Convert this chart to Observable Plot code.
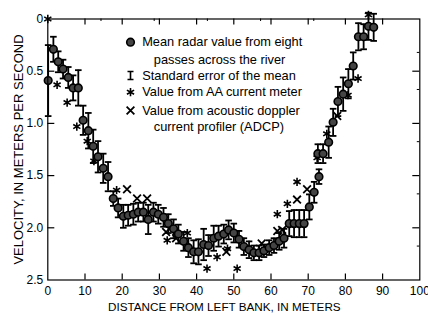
<!DOCTYPE html>
<html><head><meta charset="utf-8">
<script src="https://cdn.jsdelivr.net/npm/d3@7"></script>
<script src="https://cdn.jsdelivr.net/npm/@observablehq/plot@0.6"></script>
<style>
html,body{margin:0;padding:0;background:#fff;}
#chart{width:428px;height:315px;}
</style></head><body><div id="chart"></div>
<script>
// Mean radar value (distance m, velocity m/s, standard error)
const radarX = [0.1,1.5,2.8,4.1,5.5,6.8,8.2,9.5,10.9,12.2,13.5,14.9,16.2,17.6,18.9,20.3,21.6,23.0,24.3,25.7,27.0,28.4,29.7,31.1,32.4,33.8,35.1,36.5,37.8,39.2,40.5,41.9,43.2,44.6,45.9,47.3,48.6,50.0,51.4,52.7,54.1,55.4,56.8,58.1,59.5,60.8,62.2,63.5,64.9,66.2,67.6,68.9,70.3,71.6,72.9,72.6,74.0,75.5,76.7,78.0,79.4,80.8,82.1,83.5,84.9,86.2,87.6];
const radarV = [0.59,0.29,0.41,0.48,0.56,0.66,0.66,0.97,1.07,1.22,1.32,1.43,1.51,1.72,1.81,1.89,1.88,1.87,1.85,1.85,1.92,1.85,1.87,1.90,1.96,2.01,2.06,2.13,2.19,2.23,2.23,2.16,2.17,2.10,2.08,2.06,2.02,2.05,2.11,2.18,2.21,2.24,2.24,2.22,2.19,2.17,2.13,2.10,1.96,1.96,1.96,1.96,1.80,1.66,1.51,1.29,1.29,1.18,0.99,0.79,0.72,0.62,0.45,0.17,0.17,0.07,0.08];
const radarSE = [0.34,0.12,0.10,0.09,0.10,0.12,0.17,0.14,0.17,0.16,0.15,0.14,0.14,0.07,0.09,0.11,0.10,0.10,0.09,0.09,0.14,0.09,0.09,0.09,0.09,0.09,0.09,0.09,0.09,0.11,0.12,0.15,0.10,0.12,0.10,0.09,0.09,0.09,0.08,0.08,0.08,0.07,0.07,0.06,0.07,0.07,0.08,0.09,0.12,0.13,0.13,0.13,0.12,0.10,0.07,0.09,0.09,0.15,0.13,0.14,0.16,0.14,0.13,0.13,0.12,0.13,0.13];
// AA current meter
const aaX = [0,2.5,5.2,7.8,10.6,12.4,18.5,32.1,37.5,42.8,45.5,48.3,50.9,61.7,64.4,67.0,72.4,75.0,80.7,83.4,86.2];
const aaV = [0,0.63,0.80,1.03,1.17,1.36,1.64,2.12,2.05,2.39,2.28,2.20,2.39,1.87,1.77,1.56,1.33,1.10,0.73,0.57,-0.04];
// ADCP
const adcpX = [21.3,24.0,26.7,31.8,34.5,48.0,57.5,61.7,63.0,67.0,69.7,77.8];
const adcpV = [1.63,1.72,1.72,2.04,2.10,2.23,2.15,2.03,2.02,1.73,1.63,0.93];
// Ticks
const xTicks = [0,10,20,30,40,50,60,70,80,90,100];
const xInner = [10,20,30,40,50,60,70,80,90];
const yTicks = [0,0.5,1.0,1.5,2.0,2.5];
const yInner = [0.5,1.0,1.5,2.0];
const xMinorTop = [14.3,28.6,42.9,57.2,71.5];
const yMinorRight = [0.32,0.675,1.175,1.675,2.175];
const xTitle = "DISTANCE FROM LEFT BANK, IN METERS";
const yTitle = "VELOCITY, IN METERS PER SECOND";
const legendLines = ["Mean radar value from eight","passes across the river","Standard error of the mean","Value from AA current meter","Value from acoustic doppler","current profiler (ADCP)"];

const radar = radarX.map((x,i)=>({x, v: radarV[i], se: radarSE[i]}));
const aa = aaX.map((x,i)=>({x, v: aaV[i]}));
const adcp = adcpX.map((x,i)=>({x, v: adcpV[i]}));

const W = 428, H = 315, mL = 47.3, mR = 8.7, mT = 18.5, mB = 35.5;
const fw = W - mL - mR, fh = H - mT - mB;

const cap = {draw(ctx, size){ const r = Math.sqrt(size/Math.PI); ctx.moveTo(-r,0); ctx.lineTo(r,0);} };
const ibar = {draw(ctx, size){ const r = Math.sqrt(size/Math.PI); const w=r*0.75; ctx.moveTo(0,-r); ctx.lineTo(0,r); ctx.moveTo(-w,-r); ctx.lineTo(w,-r); ctx.moveTo(-w,r); ctx.lineTo(w,r);} };

const font = "Liberation Sans, Arial, Helvetica, sans-serif";
const lgX = 130 - mL, lgT = 141.7 - mL, lgT2 = 153.3 - mL;
const lgRows = [41.7, 59, 75, 91.7, 110, 126.5].map(y => y - mT);

const chart = Plot.plot({
  width: W, height: H,
  marginLeft: mL, marginRight: mR, marginTop: mT, marginBottom: mB,
  style: {fontFamily: font, fontSize: "12px", color: "black", background: "white"},
  x: {domain: [0,100]},
  y: {domain: [0,2.5], reverse: true},
  marks: [
    Plot.ruleX(radar, {x: "x", y1: d => d.v - d.se, y2: d => d.v + d.se, stroke: "black", strokeWidth: 1.8}),
    Plot.dot(radar, {x: "x", y: d => d.v - d.se, symbol: cap, r: 3.3, stroke: "black", strokeWidth: 1.8, fill: "none"}),
    Plot.dot(radar, {x: "x", y: d => d.v + d.se, symbol: cap, r: 3.3, stroke: "black", strokeWidth: 1.8, fill: "none"}),
    Plot.dot(aa, {x: "x", y: "v", symbol: "asterisk", r: 3.9, stroke: "black", strokeWidth: 1.6}),
    Plot.dot(adcp, {x: "x", y: "v", symbol: "times", r: 3.6, stroke: "black", strokeWidth: 1.8}),
    Plot.dot(radar, {x: "x", y: "v", r: 3.8, fill: "#444", stroke: "black", strokeWidth: 1.6}),
    Plot.frame({stroke: "black", strokeWidth: 1.2}),
    Plot.tickX(xInner, {x: d => d, insetTop: fh - 6, stroke: "black", strokeWidth: 1.2}),
    Plot.tickX(xInner, {x: d => d, insetBottom: fh - 6, stroke: "black", strokeWidth: 1.2}),
    Plot.tickX(xMinorTop, {x: d => d, insetBottom: fh - 2.5, stroke: "black", strokeWidth: 1}),
    Plot.tickY(yInner, {y: d => d, insetRight: fw - 7, stroke: "black", strokeWidth: 1.2}),
    Plot.tickY(yInner, {y: d => d, insetLeft: fw - 7, stroke: "black", strokeWidth: 1.2}),
    Plot.tickY(yMinorRight, {y: d => d, insetLeft: fw - 2.5, stroke: "black", strokeWidth: 1}),
    Plot.axisX({ticks: xTicks, tickSize: 0, tickPadding: 6, label: null, fontSize: 12}),
    Plot.axisY({ticks: yTicks, tickSize: 0, tickPadding: 4.5, label: null, fontSize: 12,
      tickFormat: d => d === 0 ? "0" : d.toFixed(1)}),
    Plot.text([xTitle], {frameAnchor: "bottom", dx: -9.5, dy: 27, textAnchor: "middle", lineAnchor: "middle", fontSize: 11.7, fill: "black"}),
    Plot.text([yTitle], {frameAnchor: "left", dx: -28.5, rotate: -90, textAnchor: "middle", lineAnchor: "middle", fontSize: 13, fill: "black"}),
    // legend
    Plot.dot([0], {frameAnchor: "top-left", dx: lgX, dy: lgRows[0], r: 3.8, fill: "#444", stroke: "black", strokeWidth: 1.6}),
    Plot.dot([0], {frameAnchor: "top-left", dx: lgX, dy: lgRows[2], symbol: ibar, r: 4, stroke: "black", strokeWidth: 1.6, fill: "none"}),
    Plot.dot([0], {frameAnchor: "top-left", dx: lgX, dy: lgRows[3], symbol: "asterisk", r: 3.9, stroke: "black", strokeWidth: 1.6}),
    Plot.dot([0], {frameAnchor: "top-left", dx: lgX, dy: lgRows[4], symbol: "times", r: 3.6, stroke: "black", strokeWidth: 1.8}),
    ...legendLines.map((t, i) => Plot.text([t], {frameAnchor: "top-left", dx: (i === 1 || i === 5) ? lgT2 : lgT, dy: lgRows[i], textAnchor: "start", lineAnchor: "middle", fontSize: 12.8, fill: "black"}))
  ]
});
document.getElementById("chart").appendChild(chart);
</script></body></html>
